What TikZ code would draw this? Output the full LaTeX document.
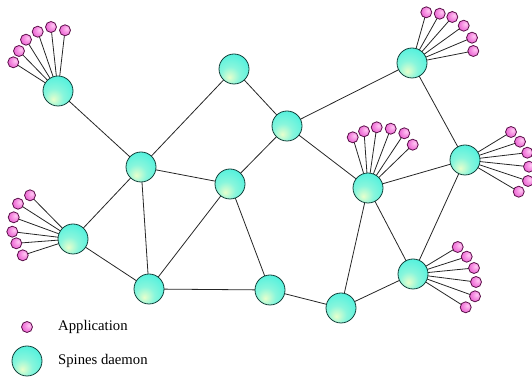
\documentclass[tikz,border=0pt]{standalone}
\usepackage{fontspec}
\setmainfont{Liberation Serif}
\definecolor{cyanhi}{HTML}{E8FFCC}
\definecolor{cyanmid}{HTML}{88F6DC}
\definecolor{cyanlo}{HTML}{36EEDE}
\definecolor{cyanline}{HTML}{12403A}
\definecolor{pinkhi}{HTML}{FFC8F2}
\definecolor{pinkmid}{HTML}{F58AE0}
\definecolor{pinklo}{HTML}{E040C4}
\definecolor{pinkline}{HTML}{5A1048}
\pgfdeclareradialshading{daemonshade}{\pgfpoint{-8bp}{-14bp}}{color(0bp)=(cyanhi); color(16bp)=(cyanmid); color(46bp)=(cyanlo); color(100bp)=(cyanlo)}
\pgfdeclareradialshading{appshade}{\pgfpoint{8bp}{8bp}}{color(0bp)=(pinkhi); color(18bp)=(pinkmid); color(45bp)=(pinklo); color(100bp)=(pinklo)}
\tikzset{
  daemon/.style={circle, minimum size=30pt, inner sep=0pt, draw=cyanline, line width=0.8pt, shading=daemonshade},
  app/.style={circle, minimum size=11pt, inner sep=0pt, draw=pinkline, line width=0.8pt, shading=appshade},
  link/.style={draw=black!85, line width=0.8pt},
  legend/.style={anchor=west, font=\fontsize{14.7}{17}\selectfont, inner sep=0pt}
}
\begin{document}
\begin{tikzpicture}[x=1pt,y=1pt]
\useasboundingbox (0,0) rectangle (532,379);
% daemon positions (image pixels, y measured from top)
\foreach \n/\x/\y in {A/58/91, B/234/69, C/287/126, D/141/167, E/230/184, F/412/63,
  G/368/188, H/465/160, I/73/239, J/149/289, K/270/290, L/341/308, M/413/274}
  \coordinate (p\n) at (\x,{379-\y});
% application positions
\foreach \n/\x/\y in {a1/13.3/62.3, a2/19/51, a3/26/39.7, a4/37.7/31.7, a5/51/27, a6/65/30.3,
  f1/426.3/12.3, f2/439.7/13.7, f3/452.3/17, f4/463.7/25.7, f5/472/37.7, f6/473.3/51,
  g1/352.7/137.3, g2/364/131.3, g3/376.7/127.3, g4/390.7/128.7, g5/404.3/133.3, g6/412.7/144.7,
  h1/511/132, h2/520/141.7, h3/527.3/152.7, h4/529/166.7, h5/528/181, h6/518.7/191.7,
  i1/30/195.3, i2/18/203.7, i3/13.7/217.3, i4/12.3/231.7, i5/16.3/243.3, i6/22.7/255.3,
  m1/457.7/247, m2/466.7/256.7, m3/474/268, m4/476/282, m5/475/296.3, m6/465.7/307.3}
  \coordinate (\n) at (\x,{379-\y});
% links between daemons
\foreach \u/\v in {A/D, D/B, B/C, C/E, C/F, C/G, D/E, D/I, D/J, E/J, E/K, J/K, K/L, L/G, L/M, G/M, G/H, H/F, H/M, I/J}
  \draw[link] (p\u) -- (p\v);
% links to applications
\foreach \h/\l in {A/a, F/f, G/g, H/h, I/i, M/m}
  \foreach \k in {1,...,6}
    \draw[link] (p\h) -- (\l\k);
% application nodes
\foreach \l in {a,f,g,h,i,m}
  \foreach \k in {1,...,6}
    \node[app] (n\l\k) at (\l\k) {};
% daemon nodes
\foreach \d in {A,B,C,D,E,F,G,H,I,J,K,L,M}
  \node[daemon] (\d) at (p\d) {};
% legend
\node[app] (legapp) at (27,{379-327}) {};
\node[daemon] (legdaemon) at (27,{379-361}) {};
\node[legend] (legapptext) at (58,{379-327}) {Application};
\node[legend] (legdaemontext) at (58,{379-361}) {Spines daemon};
\end{tikzpicture}
\end{document}
